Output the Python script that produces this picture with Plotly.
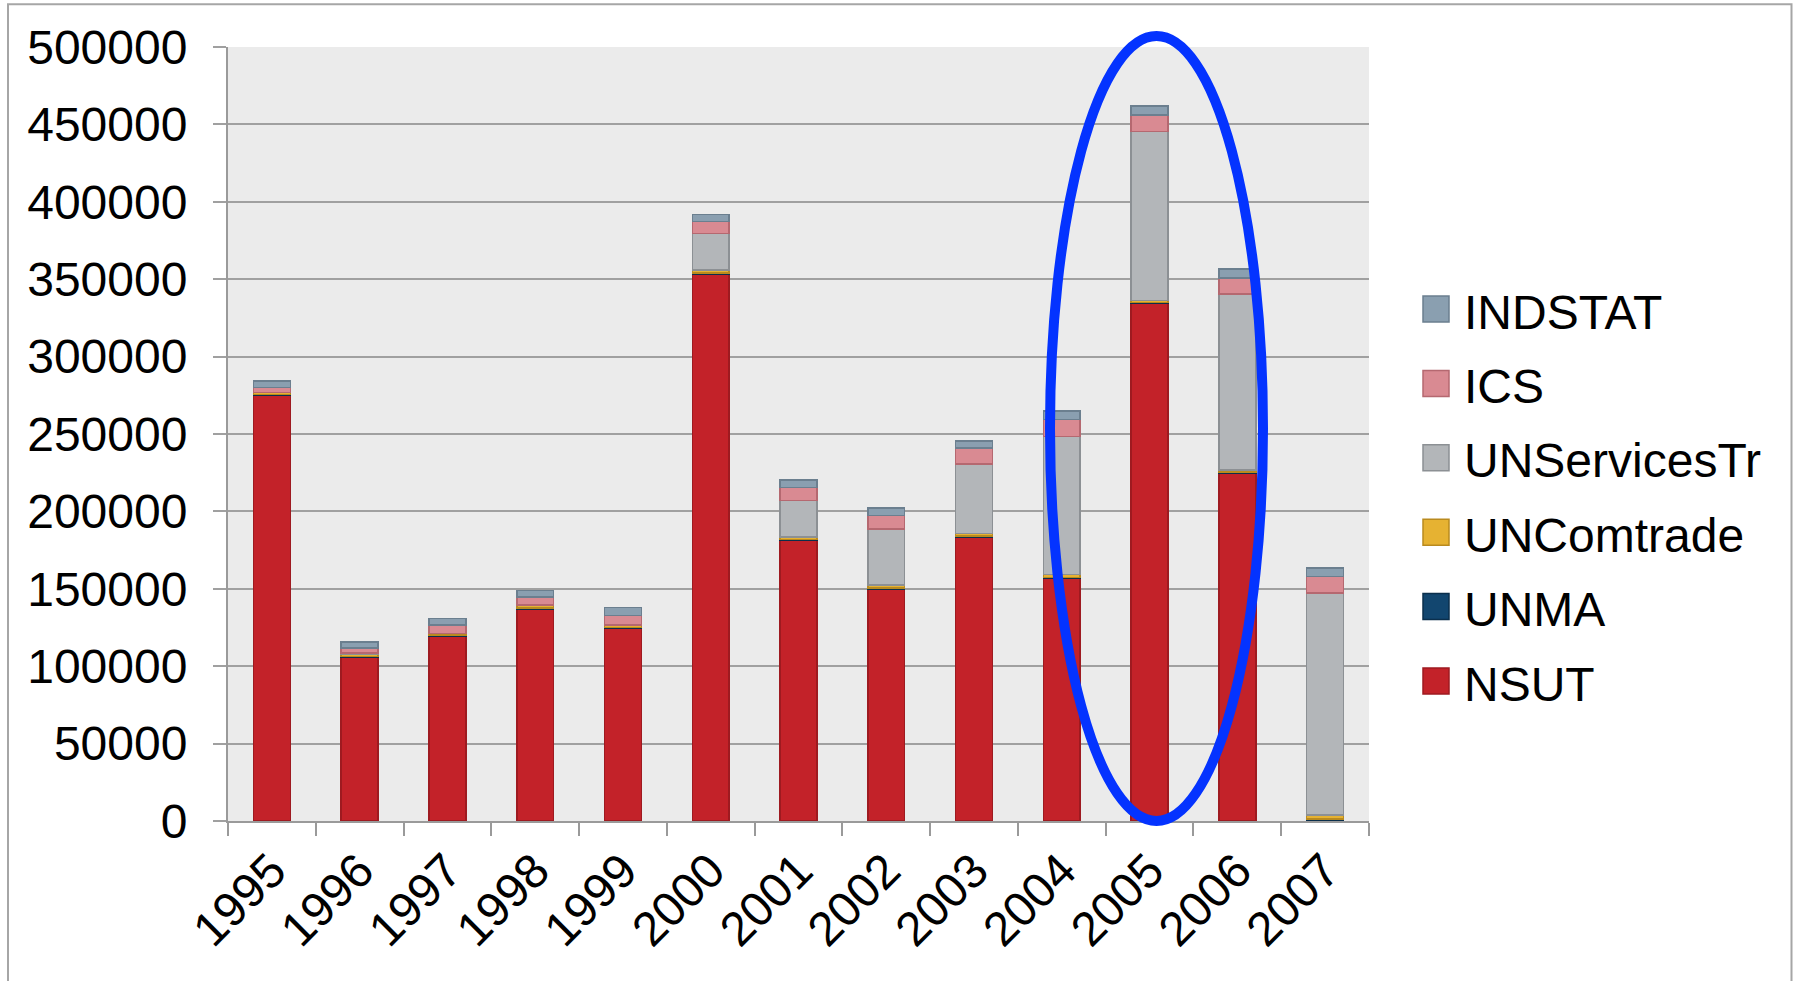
import plotly.graph_objects as go

# Records per year, stacked by data source
years = ["1995", "1996", "1997", "1998", "1999", "2000", "2001",
         "2002", "2003", "2004", "2005", "2006", "2007"]
nsut = [274900, 105800, 119600, 137100, 124600, 353300, 181300,
        150000, 183600, 156600, 334500, 224800, 500]
unma = [600, 500, 500, 500, 500, 700, 600, 600, 600, 700, 600, 600, 800]
uncomtrade = [1300, 1500, 1000, 1500, 1500, 2000, 1500, 2000, 1500, 2000,
              1300, 1500, 2500]
unservicestr = [0, 600, 100, 300, 0, 23400, 23700, 35900, 44800, 89000,
                109100, 113700, 143600]
ics = [3300, 3300, 5300, 5300, 6300, 7900, 8200, 8900, 10500, 11200,
       10500, 10200, 10500]
indstat = [4000, 4000, 4300, 4300, 5000, 4600, 4900, 4900, 4600, 5300,
           5900, 5900, 5600]

series = [
    ("NSUT", nsut, "#C32229", "#9E1A20"),
    ("UNMA", unma, "#12466F", "#0B2F4C"),
    ("UNComtrade", uncomtrade, "#E6B232", "#B98A1E"),
    ("UNServicesTr", unservicestr, "#B3B6B9", "#8C9094"),
    ("ICS", ics, "#D98A92", "#B56870"),
    ("INDSTAT", indstat, "#8A9FB0", "#6B7F8F"),
]

FONT = "Liberation Sans, Arial, Helvetica, sans-serif"
FS = 48

fig = go.Figure()
for name, vals, fill, edge in series:
    fig.add_trace(go.Bar(
        x=years, y=vals, name=name, showlegend=False,
        marker=dict(color=fill, line=dict(color=edge, width=1.5)),
    ))

# plot-area geometry in pixels, used to place paper-referenced items
L, R, T, B = 228, 1369, 47, 821
PW, PH = R - L, B - T


def px(xp):
    return (xp - L) / PW


def py(yp):
    return (B - yp) / PH


shapes = [
    # outer frame of the chart
    dict(type="rect", xref="paper", yref="paper",
         x0=px(8), x1=px(1791.5), y0=py(995), y1=py(4.3),
         line=dict(color="#A6A6A6", width=2), layer="below"),
    # highlight ring around 2005
    dict(type="circle", xref="paper", yref="paper",
         x0=px(1050), x1=px(1263), y0=py(821), y1=py(36),
         line=dict(color="#0433FF", width=10), layer="above"),
]
annotations = []

# legend: top entry is the top of the stack
KEY_X0, KEY_SIZE, TEXT_X = 1423, 26, 1462
ROW0, ROW_STEP = 309, 74.4
for i, (name, _, fill, edge) in enumerate(reversed(series)):
    cy = ROW0 + i * ROW_STEP
    shapes.append(dict(
        type="rect", xref="paper", yref="paper",
        x0=px(KEY_X0), x1=px(KEY_X0 + KEY_SIZE),
        y0=py(cy + KEY_SIZE / 2), y1=py(cy - KEY_SIZE / 2),
        fillcolor=fill, line=dict(color=edge, width=1.5),
    ))
    annotations.append(dict(
        xref="paper", yref="paper", x=px(TEXT_X), y=py(cy + 3),
        xanchor="left", yanchor="middle", showarrow=False, text=name,
        font=dict(family=FONT, size=FS, color="black"),
    ))

fig.update_layout(
    width=1795, height=981,
    margin=dict(l=L, r=1795 - R, t=T, b=981 - B),
    barmode="stack", bargap=0.58,
    paper_bgcolor="white", plot_bgcolor="#EBEBEB",
    font=dict(family=FONT, size=FS, color="black"),
    showlegend=False,
    xaxis=dict(
        type="category", tickangle=-45, showgrid=False,
        showline=True, linecolor="#9A9A9A", linewidth=2,
        ticks="outside", tickson="boundaries", ticklen=13,
        tickcolor="#9A9A9A", tickwidth=2,
        tickfont=dict(size=FS),
    ),
    yaxis=dict(
        range=[0, 500000], dtick=50000, tickformat="d",
        showgrid=True, gridcolor="#A0A0A0", gridwidth=2,
        showline=True, linecolor="#9A9A9A", linewidth=2,
        ticks="outside", ticklen=13, tickcolor="#A0A0A0", tickwidth=2,
        ticklabelstandoff=16, zeroline=False,
        tickfont=dict(size=FS),
    ),
    shapes=shapes,
    annotations=annotations,
)

fig.write_html("out.html")
